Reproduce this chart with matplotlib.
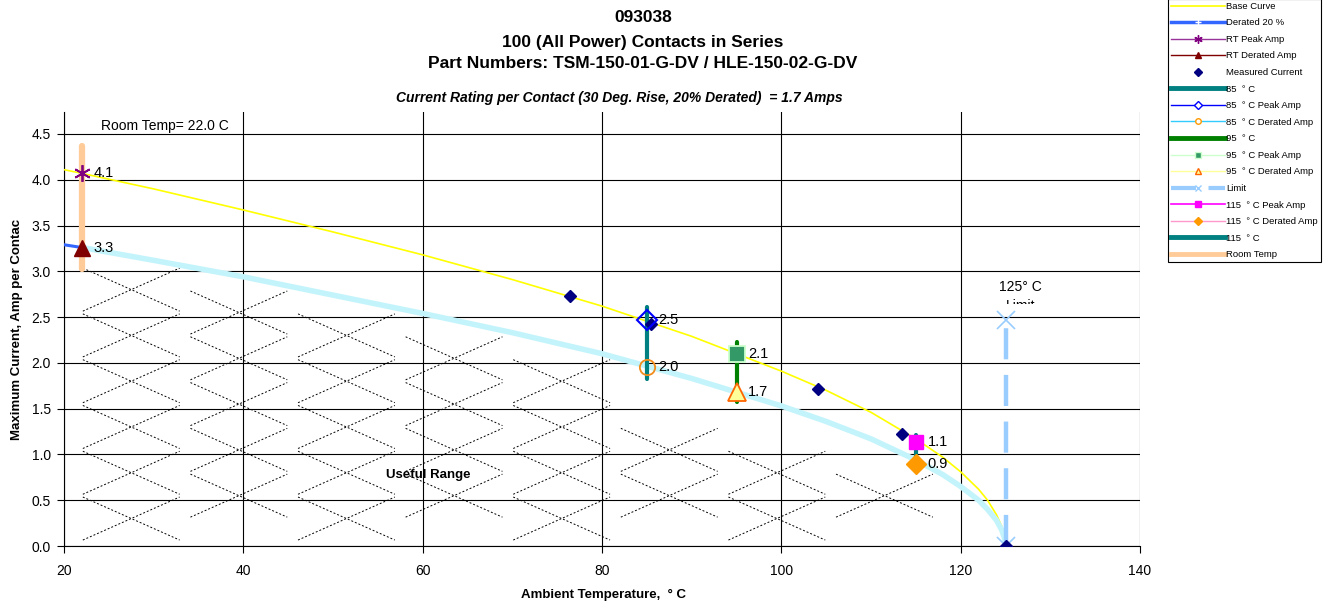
import matplotlib
matplotlib.use("Agg")
import matplotlib.pyplot as plt
import numpy as np
from matplotlib.lines import Line2D
from matplotlib.collections import LineCollection
from matplotlib.transforms import Bbox, TransformedBbox

plt.rcParams['font.family'] = ['Liberation Sans', 'DejaVu Sans']

# base curve and 20% derated curve
base_temp = [20, 22, 30, 40, 50, 60, 70, 80, 90, 100, 105, 110, 115, 118, 120, 122, 123, 124, 124.6, 124.9, 125]
base_amp = [4.11, 4.07, 3.90, 3.67, 3.43, 3.18, 2.91, 2.62, 2.29, 1.91, 1.70, 1.46, 1.17, 0.97, 0.81, 0.62, 0.50, 0.34, 0.21, 0.10, 0.0]
derated_amp = [3.29, 3.26, 3.12, 2.94, 2.74, 2.54, 2.33, 2.10, 1.83, 1.53, 1.36, 1.17, 0.94, 0.78, 0.65, 0.50, 0.40, 0.28, 0.17, 0.08, 0.0]

measured_temp = [76.4, 85.5, 104.1, 113.5, 125]
measured_amp = [2.73, 2.42, 1.71, 1.22, 0.0]

room_temp = 22.0
rt_peak = 4.07
rt_derated = 3.26
rt_bar = [3.03, 4.37]

test_temps = [85, 95, 115]
peak_amp = [2.47, 2.10, 1.14]
der_amp = [1.96, 1.68, 0.90]
bar_low = [1.82, 1.57, 0.90]
bar_high = [2.61, 2.23, 1.21]

limit_temp = 125
limit_amp = [0.0, 2.47]

fig = plt.figure(figsize=(13.33, 6.08), dpi=100)
ax = fig.add_axes([64/1333, 62/608, 1076/1333, 434/608])

ax.set_xlim(20, 140)
ax.set_ylim(0, 4.74)
ax.set_xticks(np.arange(20, 141, 20))
ax.set_yticks(np.arange(0, 4.51, 0.5))
ax.set_yticklabels(["%.1f" % v for v in np.arange(0, 4.51, 0.5)])
ax.grid(True, color='black', lw=0.8)
ax.set_axisbelow(True)
for s in ['top', 'right']:
    ax.spines[s].set_visible(False)
ax.tick_params(axis='both', direction='out', length=5, width=0.8, labelsize=10)
ax.tick_params(axis='x', pad=8)
ax.tick_params(axis='y', pad=4.5)

# "useful range" pattern under the derated curve
cw, ch = 10.8, 0.47
segs = []
for i, cx in enumerate(np.arange(27.5, 116, 12)):
    for cy in np.arange(0.3 + (i % 2) * 0.25, 3.2, 0.5):
        if cy + ch/2 > np.interp(cx + cw/2, base_temp, derated_amp):
            continue
        segs.append([(cx - cw/2, cy - ch/2), (cx + cw/2, cy + ch/2)])
        segs.append([(cx - cw/2, cy + ch/2), (cx + cw/2, cy - ch/2)])
ax.add_collection(LineCollection(segs, colors='black', linewidths=0.7, linestyles=[(0, (2, 2))], zorder=1.5))

ax.plot(base_temp, base_amp, color='#ffff00', lw=1.2, zorder=3)
ax.plot(base_temp, derated_amp, color='#3366ff', lw=2.2, zorder=3)
ax.plot(base_temp[1:], derated_amp[1:], color='#c4f4fb', lw=4, zorder=3.1)

# vertical bars
ax.plot([room_temp, room_temp], rt_bar, color='#ffcc99', lw=4.5, zorder=4, solid_capstyle='round')
bar_colors = ['#008080', '#008000', '#008080']
for t, lo, hi, c in zip(test_temps, bar_low, bar_high, bar_colors):
    ax.plot([t, t], [lo, hi], color=c, lw=3, zorder=4, solid_capstyle='round')
ax.plot([limit_temp, limit_temp], limit_amp, color='#99ccff', lw=3.2, ls=(0, (7, 3.5)), zorder=4)
ax.plot([limit_temp, limit_temp], limit_amp, ls='none', marker='x', ms=13, mew=1.2, color='#99ccff', zorder=5)

ax.plot(measured_temp, measured_amp, ls='none', marker='D', ms=6, color='#000080', zorder=6)

ax.plot(room_temp, rt_peak, marker=(6, 2, 0), ms=12, mew=1.3, color='#800080', zorder=7)
ax.plot(room_temp, rt_derated, marker='^', ms=11, color='#800000', zorder=7)

ax.plot(test_temps[0], peak_amp[0], marker='D', ms=10, mfc='none', mec='#0000ff', mew=1.5, zorder=7)
ax.plot(test_temps[0], der_amp[0], marker='o', ms=11, mfc='none', mec='#f08c1a', mew=1.3, zorder=7)
ax.plot(test_temps[1], peak_amp[1], marker='s', ms=11, mfc='#339966', mec='#ccffcc', mew=1.3, zorder=7)
ax.plot(test_temps[1], der_amp[1], marker='^', ms=13, mfc='#ffff99', mec='#ff6600', mew=1.3, zorder=7)
ax.plot(test_temps[2], peak_amp[2], marker='s', ms=10, color='#ff00ff', zorder=7)
ax.plot(test_temps[2], der_amp[2], marker='D', ms=10, color='#ff9900', zorder=7)

for t, v in zip([room_temp, room_temp] + test_temps + test_temps,
                [rt_peak, rt_derated] + peak_amp + der_amp):
    ax.text(t + 1.3, v, "%.1f" % v, ha='left', va='center', fontsize=10.5, zorder=8)

ax.text(31.2, 4.59, 'Room Temp= 22.0 C', ha='center', va='center', fontsize=10)
ax.text(60.6, 0.77, 'Useful Range', ha='center', va='center', fontsize=9.5, weight='bold')
ax.text(126.7, 2.83, '125° C', ha='center', va='center', fontsize=10)
lim = ax.text(126.7, 2.62, 'Limit', ha='center', va='center', fontsize=10)
lim.set_clip_box(TransformedBbox(Bbox([[118, 2.64], [135, 3.2]]), ax.transData))
lim.set_clip_on(True)

ax.set_xlabel('Ambient Temperature,  ° C', fontsize=9.5, weight='bold')
ax.xaxis.set_label_coords(0.501, -0.1)
ax.set_ylabel('Maximum Current, Amp per Contac', fontsize=9.5, weight='bold')
ax.yaxis.set_label_coords(-0.038, 0.5)

fig.text(643/1333, 1 - 18/608, '093038', ha='center', va='center', fontsize=12.5, weight='bold')
fig.text(643/1333, 1 - 42/608, '100 (All Power) Contacts in Series', ha='center', va='center', fontsize=12.5, weight='bold')
fig.text(643/1333, 1 - 63/608, 'Part Numbers: TSM-150-01-G-DV / HLE-150-02-G-DV', ha='center', va='center', fontsize=12.5, weight='bold')
fig.text(619/1333, 1 - 98/608, 'Current Rating per Contact (30 Deg. Rise, 20% Derated)  = 1.7 Amps',
         ha='center', va='center', fontsize=10, weight='bold', style='italic')

handles = [
    Line2D([], [], color='#ffff00', lw=1.2),
    Line2D([], [], color='#3366ff', lw=2.5, marker='+', mec='white', ms=5),
    Line2D([], [], color='#993399', lw=1, marker=(6, 2, 0), mec='#800080', ms=6),
    Line2D([], [], color='#800000', lw=1, marker='^', ms=5),
    Line2D([], [], ls='none', marker='D', color='#000080', ms=4),
    Line2D([], [], color='#008080', lw=3.5),
    Line2D([], [], color='#0000ff', lw=1, marker='D', mfc='white', ms=4),
    Line2D([], [], color='#33ccff', lw=1, marker='o', mfc='white', mec='#ff9900', ms=4),
    Line2D([], [], color='#008000', lw=3.5),
    Line2D([], [], color='#ccffcc', lw=1, marker='s', mfc='#339966', mec='#ccffcc', ms=4),
    Line2D([], [], color='#ffff99', lw=1, marker='^', mfc='#ffff99', mec='#ff6600', ms=5),
    Line2D([], [], color='#99ccff', lw=3, ls=(0, (6, 3)), marker='x', ms=5),
    Line2D([], [], color='#ff00ff', lw=1.2, marker='s', ms=5),
    Line2D([], [], color='#ff99cc', lw=1, marker='D', mfc='#ff9900', mec='#ff9900', ms=4),
    Line2D([], [], color='#008080', lw=3.5),
    Line2D([], [], color='#ffcc99', lw=3.5),
]
labels = ['Base Curve', 'Derated 20 %', 'RT Peak Amp', 'RT Derated Amp', 'Measured Current',
          '85  ° C', '85  ° C Peak Amp', '85  ° C Derated Amp', '95  ° C', '95  ° C Peak Amp',
          '95  ° C Derated Amp', 'Limit', '115  ° C Peak Amp', '115  ° C Derated Amp', '115  ° C', 'Room Temp']
leg = fig.legend(handles, labels, loc='lower left', bbox_to_anchor=(1168/1333, 1 - 262/608),
                 fontsize=6.8, handlelength=5.7, handletextpad=0.15, labelspacing=0.8,
                 borderpad=0.3, borderaxespad=0, fancybox=False, edgecolor='black', framealpha=1,
                 numpoints=1)
leg.get_frame().set_linewidth(0.8)

fig.savefig('out.png', dpi=100)
